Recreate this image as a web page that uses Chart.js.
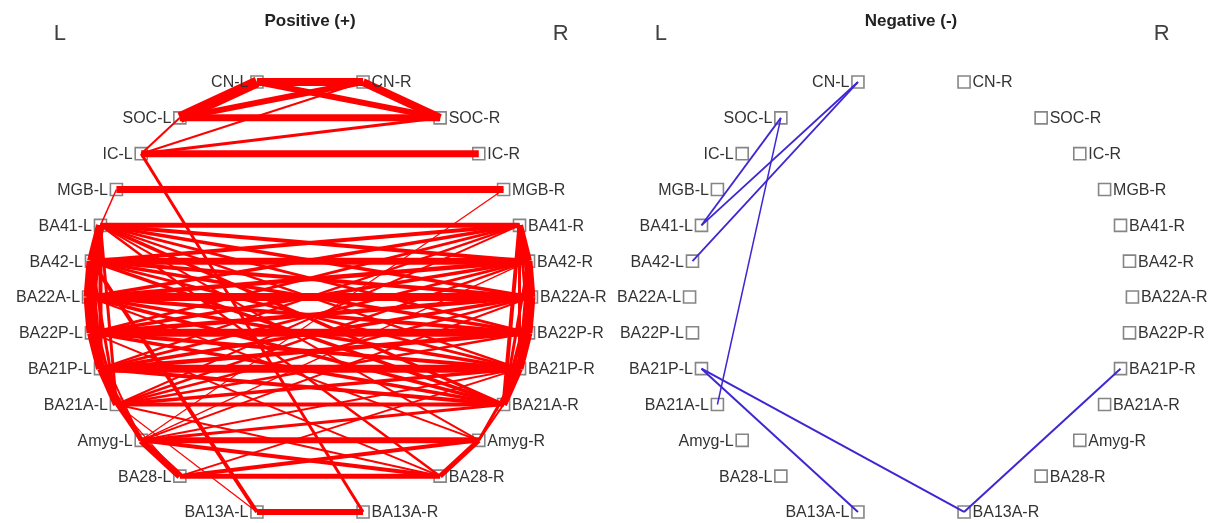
<!DOCTYPE html>
<html>
<head>
<meta charset="utf-8">
<script src="https://cdn.jsdelivr.net/npm/chart.js@4.4.1/dist/chart.umd.min.js"></script>
<style>
  html, body { margin: 0; padding: 0; background: #ffffff; }
  #wrap { position: relative; width: 1216px; height: 523px; overflow: hidden; }
  #wrap canvas { position: absolute; top: 0; }
  #pos { left: 0; }
  #neg { left: 608px; }
</style>
</head>
<body>
<div id="wrap">
  <canvas id="pos" width="608" height="523"></canvas>
  <canvas id="neg" width="608" height="523"></canvas>
</div>
<script>
// Regions, top to bottom; each one appears once per hemisphere
const regions = ['CN', 'SOC', 'IC', 'MGB', 'BA41', 'BA42', 'BA22A', 'BA22P', 'BA21P', 'BA21A', 'Amyg', 'BA28', 'BA13A'];
const hemispheres = ['L', 'R'];
const panelTitles = ['Positive (+)', 'Negative (-)'];
const sideLabels = ['L', 'R'];

// Connections: [from, to, strength]
const positiveEdges = [
  ['CN-L', 'CN-R', 8], ['CN-L', 'SOC-L', 11], ['CN-R', 'SOC-R', 8],
  ['CN-L', 'SOC-R', 6], ['CN-R', 'SOC-L', 6], ['SOC-L', 'SOC-R', 7],
  ['IC-L', 'IC-R', 7], ['IC-L', 'SOC-L', 2], ['IC-L', 'CN-R', 2],
  ['IC-L', 'SOC-R', 3], ['IC-L', 'BA13A-R', 3],
  ['MGB-L', 'MGB-R', 7], ['MGB-L', 'BA41-L', 1.5], ['MGB-R', 'Amyg-L', 1.2],

  ['BA41-L', 'BA41-R', 5], ['BA42-L', 'BA42-R', 7], ['BA22A-L', 'BA22A-R', 8],
  ['BA22P-L', 'BA22P-R', 8], ['BA21P-L', 'BA21P-R', 8], ['BA21A-L', 'BA21A-R', 4],

  ['BA41-L', 'BA42-L', 9], ['BA42-L', 'BA22A-L', 10], ['BA22A-L', 'BA22P-L', 10],
  ['BA22P-L', 'BA21P-L', 9], ['BA21P-L', 'BA21A-L', 7],
  ['BA41-L', 'BA22A-L', 5], ['BA41-L', 'BA22P-L', 4], ['BA41-L', 'BA21P-L', 4],
  ['BA41-L', 'BA21A-L', 3], ['BA42-L', 'BA22P-L', 5], ['BA42-L', 'BA21P-L', 4],
  ['BA42-L', 'BA21A-L', 3], ['BA22A-L', 'BA21P-L', 5], ['BA22A-L', 'BA21A-L', 3],
  ['BA22P-L', 'BA21A-L', 4],

  ['BA41-R', 'BA42-R', 7], ['BA42-R', 'BA22A-R', 8], ['BA22A-R', 'BA22P-R', 8],
  ['BA22P-R', 'BA21P-R', 8], ['BA21P-R', 'BA21A-R', 7],
  ['BA41-R', 'BA22A-R', 4], ['BA41-R', 'BA22P-R', 3], ['BA41-R', 'BA21P-R', 3],
  ['BA41-R', 'BA21A-R', 4], ['BA42-R', 'BA22P-R', 4], ['BA42-R', 'BA21P-R', 3],
  ['BA42-R', 'BA21A-R', 3], ['BA22A-R', 'BA21P-R', 5], ['BA22A-R', 'BA21A-R', 4],
  ['BA22P-R', 'BA21A-R', 4],

  ['BA41-L', 'BA42-R', 4], ['BA41-L', 'BA22A-R', 3.5], ['BA41-L', 'BA22P-R', 3],
  ['BA41-L', 'BA21P-R', 2.5], ['BA41-L', 'BA21A-R', 3.5],
  ['BA42-L', 'BA41-R', 4], ['BA42-L', 'BA22A-R', 4], ['BA42-L', 'BA22P-R', 3.5],
  ['BA42-L', 'BA21P-R', 3], ['BA42-L', 'BA21A-R', 3.5],
  ['BA22A-L', 'BA41-R', 3.5], ['BA22A-L', 'BA42-R', 4.5], ['BA22A-L', 'BA22P-R', 4],
  ['BA22A-L', 'BA21P-R', 3.5], ['BA22A-L', 'BA21A-R', 3.5],
  ['BA22P-L', 'BA41-R', 3], ['BA22P-L', 'BA42-R', 3.5], ['BA22P-L', 'BA22A-R', 4.5],
  ['BA22P-L', 'BA21P-R', 4], ['BA22P-L', 'BA21A-R', 3.5],
  ['BA21P-L', 'BA41-R', 2.5], ['BA21P-L', 'BA42-R', 3], ['BA21P-L', 'BA22A-R', 3.5],
  ['BA21P-L', 'BA22P-R', 4.5], ['BA21P-L', 'BA21A-R', 4],
  ['BA21A-L', 'BA41-R', 2], ['BA21A-L', 'BA42-R', 2.5], ['BA21A-L', 'BA22A-R', 2.5],
  ['BA21A-L', 'BA22P-R', 2.5], ['BA21A-L', 'BA21P-R', 3.5],

  ['BA21P-L', 'Amyg-L', 5], ['BA21A-L', 'Amyg-L', 3], ['BA22P-L', 'Amyg-L', 2],
  ['BA21P-R', 'Amyg-R', 3], ['BA21A-R', 'Amyg-R', 2],
  ['Amyg-R', 'BA22A-L', 2], ['Amyg-R', 'BA41-L', 2], ['Amyg-L', 'BA22A-R', 2],
  ['Amyg-L', 'BA42-R', 1.5], ['Amyg-L', 'BA21A-R', 3], ['Amyg-L', 'BA21P-R', 2],
  ['BA28-L', 'BA21P-R', 2], ['BA28-R', 'BA22P-L', 2], ['BA28-R', 'BA41-L', 2.5],
  ['BA21A-L', 'BA28-R', 2], ['BA21A-L', 'BA28-L', 1.2], ['BA21A-L', 'BA13A-L', 1.2],
  ['BA42-L', 'BA13A-L', 4],

  ['Amyg-L', 'Amyg-R', 6], ['Amyg-L', 'BA28-L', 7], ['Amyg-R', 'BA28-R', 5],
  ['Amyg-L', 'BA28-R', 4], ['Amyg-R', 'BA28-L', 4], ['BA28-L', 'BA28-R', 5],
  ['BA13A-L', 'BA13A-R', 6]
];

const negativeEdges = [
  ['CN-L', 'BA41-L', 1.8], ['CN-L', 'BA42-L', 1.8],
  ['SOC-L', 'BA41-L', 1.8], ['SOC-L', 'BA21A-L', 1.5],
  ['BA21P-L', 'BA13A-L', 2], ['BA21P-L', 'BA13A-R', 2], ['BA13A-R', 'BA21P-R', 2]
];

// Layout: rows evenly spaced vertically, nodes sitting on a circle
const ringRadius = 6.18;
const unitPx = 35.83;

function nodeLayout() {
  const nodes = [];
  regions.forEach((r, i) => {
    const y = 6 - i;
    const dx = Math.sqrt(ringRadius * ringRadius - y * y);
    nodes.push({ name: r + '-L', side: 'L', x: -dx, y });
    nodes.push({ name: r + '-R', side: 'R', x: dx, y });
  });
  return nodes;
}

const annotate = {
  id: 'annotate',
  afterDatasetsDraw(chart, args, opts) {
    const { ctx } = chart;
    const xs = chart.scales.x, ys = chart.scales.y;
    ctx.save();
    // node names
    ctx.font = '16px "Liberation Sans", Arial, sans-serif';
    ctx.fillStyle = '#333333';
    ctx.textBaseline = 'middle';
    opts.nodes.forEach(n => {
      const px = xs.getPixelForValue(n.x), py = ys.getPixelForValue(n.y);
      if (n.side === 'L') { ctx.textAlign = 'right'; ctx.fillText(n.name, px - 8.5, py + 1); }
      else { ctx.textAlign = 'left'; ctx.fillText(n.name, px + 8.5, py + 1); }
    });
    // panel title
    ctx.font = 'bold 17px "Liberation Sans", Arial, sans-serif';
    ctx.fillStyle = '#222222';
    ctx.textAlign = 'center';
    ctx.fillText(opts.title, xs.getPixelForValue(0), ys.getPixelForValue(7.7));
    // hemisphere markers
    ctx.font = '22px "Liberation Sans", Arial, sans-serif';
    ctx.fillStyle = '#404040';
    ctx.fillText(sideLabels[0], xs.getPixelForValue(-6.98), ys.getPixelForValue(7.33));
    ctx.fillText(sideLabels[1], xs.getPixelForValue(7.0), ys.getPixelForValue(7.33));
    ctx.restore();
  }
};

function makePanel(id, title, edges, color, centerPx) {
  const nodes = nodeLayout();
  const byName = {};
  nodes.forEach(n => { byName[n.name] = n; });
  const w = 608, h = 523;
  const datasets = [{
    data: nodes.map(n => ({ x: n.x, y: n.y })),
    pointStyle: 'rect',
    pointRadius: 8.5,
    pointBorderWidth: 1.6,
    pointBorderColor: '#858585',
    pointBackgroundColor: 'rgba(255,255,255,0)',
    showLine: false,
    order: 1
  }];
  edges.forEach(([a, b, s]) => {
    datasets.push({
      data: [{ x: byName[a].x, y: byName[a].y }, { x: byName[b].x, y: byName[b].y }],
      showLine: true,
      borderColor: color,
      borderWidth: s,
      pointRadius: 0,
      fill: false,
      order: 0
    });
  });
  new Chart(document.getElementById(id), {
    type: 'scatter',
    data: { datasets },
    options: {
      responsive: false,
      animation: false,
      events: [],
      devicePixelRatio: 1,
      layout: { padding: 0, autoPadding: false },
      plugins: {
        legend: { display: false },
        tooltip: { enabled: false },
        title: { display: false },
        annotate: { nodes, title }
      },
      scales: {
        x: { type: 'linear', display: false, min: -centerPx / unitPx, max: (w - centerPx) / unitPx },
        y: { type: 'linear', display: false, min: -(h - 297) / unitPx, max: 297 / unitPx }
      }
    },
    plugins: [annotate]
  });
}

makePanel('pos', panelTitles[0], positiveEdges, '#ff0000', 310);
makePanel('neg', panelTitles[1], negativeEdges, '#3e27d2', 303);
</script>
</body>
</html>
